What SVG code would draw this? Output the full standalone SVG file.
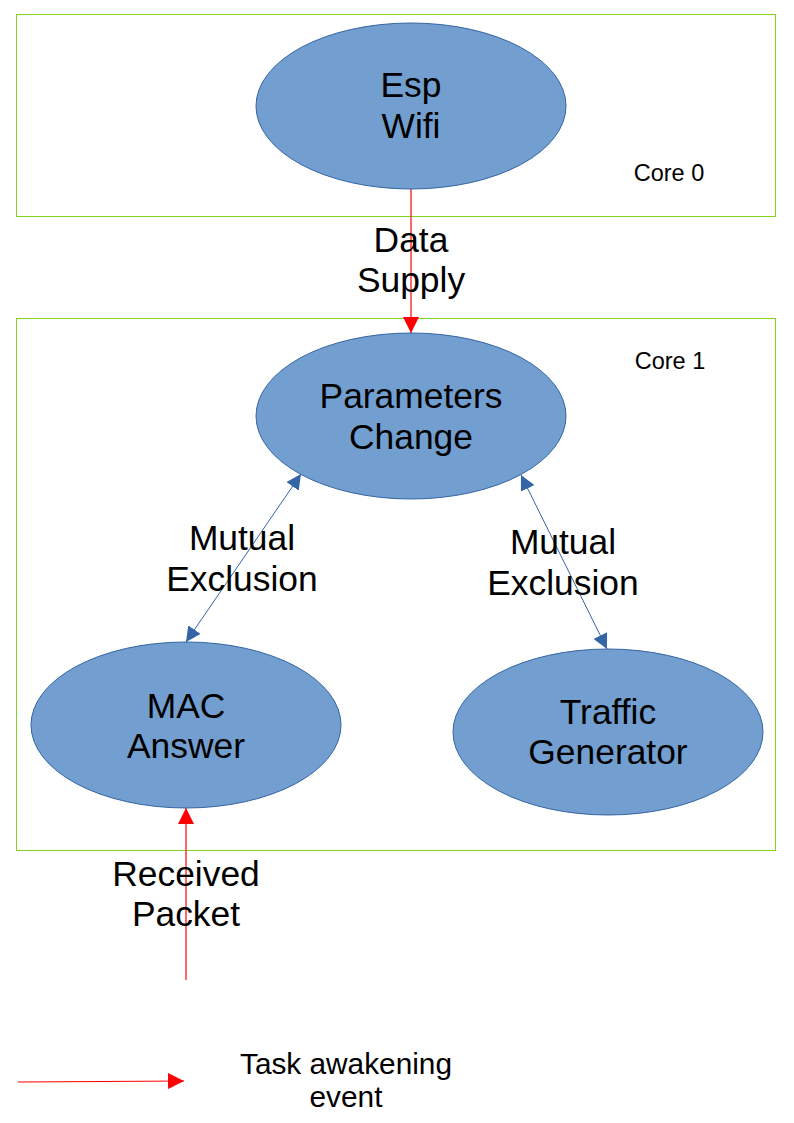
<svg xmlns="http://www.w3.org/2000/svg" width="794" height="1123" viewBox="0 0 794 1123">
<defs>
<style>
.core{fill:none;stroke:#81d41a;stroke-width:1}
.node{fill:#729fcf;stroke:#3465a4;stroke-width:1}
.t{font-family:"Liberation Sans",Arial,sans-serif;fill:#000;text-anchor:middle}
.big{font-size:35.4px}
.small{font-size:23.5px}
.mid{font-size:29.8px}
.red{stroke:#ff0000;stroke-width:1.2;fill:none}
.blue{stroke:#3465a4;stroke-width:1;fill:none}
</style>
<marker id="ar" viewBox="0 0 10 10" refX="10" refY="5" markerWidth="16" markerHeight="16" markerUnits="userSpaceOnUse" orient="auto"><path d="M0,0 L10,5 L0,10 z" fill="#ff0000"/></marker>
<marker id="ab" viewBox="0 0 10 10" refX="10" refY="5" markerWidth="15" markerHeight="15" markerUnits="userSpaceOnUse" orient="auto-start-reverse"><path d="M0,0 L10,5 L0,10 z" fill="#3465a4"/></marker>
</defs>
<rect width="794" height="1123" fill="#fff"/>
<g id="core0"><rect class="core" x="16.5" y="14.5" width="759" height="202"/><text class="t small" x="669" y="181">Core 0</text></g>
<g id="core1"><rect class="core" x="16.5" y="318.5" width="759" height="532"/><text class="t small" x="670" y="369">Core 1</text></g>
<g id="connectors">
<line class="red" x1="411" y1="189" x2="411" y2="333" marker-end="url(#ar)"/>
<line class="blue" x1="301" y1="474" x2="186" y2="642" marker-start="url(#ab)" marker-end="url(#ab)"/>
<line class="blue" x1="521" y1="475" x2="607" y2="649" marker-start="url(#ab)" marker-end="url(#ab)"/>
<line class="red" x1="186" y1="980" x2="186" y2="808" marker-end="url(#ar)"/>
<text class="t big" x="411" y="252">Data</text><text class="t big" x="411" y="292">Supply</text>
<text class="t big" x="242" y="550">Mutual</text><text class="t big" x="242" y="591">Exclusion</text>
<text class="t big" x="563" y="554">Mutual</text><text class="t big" x="563" y="595">Exclusion</text>
<text class="t big" x="186" y="886">Received</text><text class="t big" x="186" y="926">Packet</text>
</g>
<g id="esp"><ellipse class="node" cx="411" cy="106" rx="155" ry="83"/><text class="t big" x="411" y="97">Esp</text><text class="t big" x="411" y="138">Wifi</text></g>
<g id="params"><ellipse class="node" cx="411" cy="416" rx="155" ry="83"/><text class="t big" x="411" y="408">Parameters</text><text class="t big" x="411" y="449">Change</text></g>
<g id="mac"><ellipse class="node" cx="186" cy="725" rx="155" ry="83"/><text class="t big" x="186" y="718">MAC</text><text class="t big" x="186" y="758">Answer</text></g>
<g id="traffic"><ellipse class="node" cx="608" cy="732" rx="155" ry="83"/><text class="t big" x="608" y="724">Traffic</text><text class="t big" x="608" y="764">Generator</text></g>
<g id="legend"><line class="red" x1="18" y1="1082" x2="184" y2="1081" marker-end="url(#ar)"/><text class="t mid" x="346" y="1074">Task awakening</text><text class="t mid" x="346" y="1107">event</text></g>
</svg>
